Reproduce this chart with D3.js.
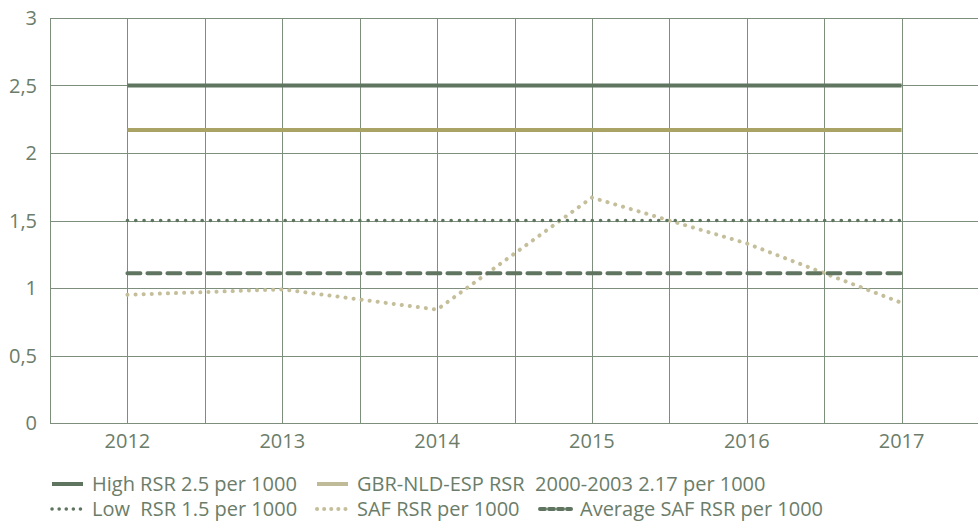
<!DOCTYPE html>
<html>
<head>
<meta charset="utf-8">
<script src="https://cdn.jsdelivr.net/npm/d3@7"></script>
<style>
  body { margin:0; background:#fff; }
  text { font-family: "Open Sans", "Noto Sans", sans-serif; fill:#6b7d6a; white-space: pre; }
</style>
</head>
<body>
<div id="content"></div>
<script>
const years = ["2012","2013","2014","2015","2016","2017"];
const highRSR = [2.5,2.5,2.5,2.5,2.5,2.5];
const gbrRSR = [2.17,2.17,2.17,2.17,2.17,2.17];
const lowRSR = [1.5,1.5,1.5,1.5,1.5,1.5];
const safRSR = [0.95,0.99,0.84,1.67,1.33,0.89];
const avgSAF = [1.11,1.11,1.11,1.11,1.11,1.11];
const yTicks = [0,0.5,1,1.5,2,2.5,3];

const w = 978, h = 523;
const padL = 50, padR = 979, padT = 18, padB = 423;
const green = "#5f7560", olive = "#a9a466", khaki = "#c4bf9a", grid = "#7d8f7c";

const svg = d3.select("#content").append("svg")
  .attr("width", w).attr("height", h);

const xScale = d3.scaleBand().domain(years).range([padL, padR]);
const xPos = d => xScale(d) + xScale.bandwidth()/2;
const yScale = d3.scaleLinear().domain([0,3]).range([padB, padT]);

// grid
const vLines = [];
years.forEach(y => { vLines.push(xScale(y)); vLines.push(xPos(y)); });
vLines.push(padR);
svg.append("g").selectAll("line").data(vLines).enter().append("line")
  .attr("x1", d => Math.round(d)+0.5).attr("x2", d => Math.round(d)+0.5)
  .attr("y1", padT).attr("y2", padB)
  .attr("stroke", grid).attr("stroke-width", 1);
svg.append("g").selectAll("line").data(yTicks).enter().append("line")
  .attr("x1", padL).attr("x2", w)
  .attr("y1", d => Math.round(yScale(d))+0.5).attr("y2", d => Math.round(yScale(d))+0.5)
  .attr("stroke", grid).attr("stroke-width", 1);

// axis labels
const fmt = d => String(d).replace(".", ",");
svg.append("g").selectAll("text").data(yTicks).enter().append("text")
  .attr("x", 37).attr("y", d => yScale(d)).attr("dy", "0.36em")
  .attr("text-anchor", "end").style("font-size", "20px")
  .text(fmt);
svg.append("g").selectAll("text").data(years).enter().append("text")
  .attr("x", d => xPos(d)).attr("y", 448)
  .attr("text-anchor", "middle").style("font-size", "20px")
  .text(d => d);

const series = [
  {name:"High RSR 2.5 per 1000", vals:highRSR, color:green, width:4, dash:null, cap:"butt"},
  {name:"GBR-NLD-ESP RSR  2000-2003 2.17 per 1000", vals:gbrRSR, color:olive, width:4, dash:null, cap:"butt"},
  {name:"Low  RSR 1.5 per 1000", vals:lowRSR, color:green, width:3.5, dash:"0.1 8.2", cap:"round"},
  {name:"SAF RSR per 1000", vals:safRSR, color:khaki, width:4, dash:"0.1 8", cap:"round"},
  {name:"Average SAF RSR per 1000", vals:avgSAF, color:green, width:4, dash:"13 7", cap:"round"}
];

const line = d3.line().x((d,i) => xPos(years[i])).y(d => yScale(d));
const drawOrder = [3,2,4,1,0];
drawOrder.forEach(k => {
  const s = series[k];
  svg.append("path").datum(s.vals)
    .attr("d", line).attr("fill", "none")
    .attr("stroke", s.color).attr("stroke-width", s.width)
    .attr("stroke-linecap", s.cap)
    .attr("stroke-dasharray", s.dash);
});

// legend
const legendPos = [[51,484],[316,484],[51,509],[316,509],[539,509]];
series.forEach((s,i) => {
  const [lx, ly] = legendPos[i];
  const g = svg.append("g").attr("transform", `translate(${lx},${ly})`);
  g.append("line").attr("x1", 1).attr("x2", 32).attr("y1", 0).attr("y2", 0)
    .attr("stroke", i===1 ? "#bfbb98" : s.color).attr("stroke-width", s.width)
    .attr("stroke-linecap", s.cap)
    .attr("stroke-dasharray", s.dash ? (i===4 ? "5 4" : "0.1 7") : null);
  g.append("text").attr("x", 41).attr("y", 0).attr("dy", "0.36em")
    .attr("xml:space", "preserve")
    .style("font-size", "20px").text(s.name);
});
</script>
</body>
</html>
